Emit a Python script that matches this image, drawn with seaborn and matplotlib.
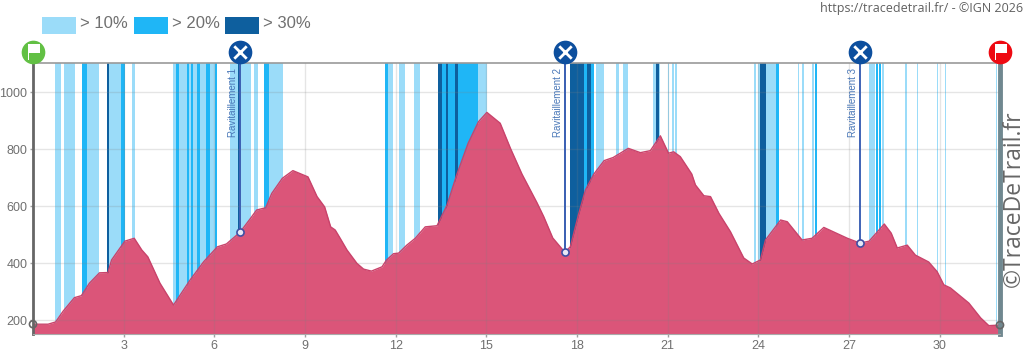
import matplotlib
matplotlib.use("Agg")
import matplotlib.pyplot as plt
from matplotlib.patches import Rectangle
from matplotlib.path import Path
import seaborn as sns
import pandas as pd

km = [0, 0.5, 0.75, 1.0, 1.37, 1.6, 1.87, 2.2, 2.48, 2.6, 3.04, 3.35, 3.6, 3.8, 4.2, 4.65, 5.2, 5.65, 6.1, 6.4,
      6.85, 7.2, 7.4, 7.7, 7.9, 8.25, 8.6, 9.1, 9.4, 9.65, 9.85, 10.0, 10.17, 10.39, 10.72, 10.94, 11.2, 11.55, 11.7, 11.93,
      12.1, 12.37, 12.65, 12.98, 13.37, 13.7, 14.03, 14.4, 14.74, 15.02, 15.46, 15.8, 16.18, 16.68, 16.9, 17.2, 17.6, 17.78, 18.05, 18.28,
      18.56, 18.9, 19.2, 19.7, 20.1, 20.43, 20.76, 21.03, 21.2, 21.42, 21.8, 21.92, 22.2, 22.42, 22.7, 23.08, 23.52, 23.8, 24.07, 24.24,
      24.74, 24.96, 25.45, 25.78, 26.17, 26.95, 27.37, 27.67, 28.17, 28.4, 28.6, 28.93, 29.2, 29.64, 29.92, 30.14, 30.36, 30.97, 31.36, 31.63, 32.0]
elev = [187, 187, 195, 233, 280, 287, 331, 367, 368, 412, 478, 488, 447, 423, 331, 254, 342, 406, 458, 468,
        509, 558, 587, 595, 645, 698, 725, 703, 634, 598, 528, 517, 487, 447, 400, 380, 373, 388, 412, 434,
        436, 464, 488, 528, 532, 604, 713, 821, 896, 929, 891, 803, 713, 612, 564, 489, 439, 458, 570, 657,
        713, 760, 771, 803, 788, 795, 847, 786, 791, 774, 713, 675, 637, 634, 575, 511, 419, 398, 412, 482,
        552, 546, 482, 488, 526, 488, 471, 478, 538, 506, 454, 464, 429, 405, 371, 325, 314, 261, 209, 182, 184]

bands_10 = [(0.73, 0.94), (1.03, 1.40), (1.78, 2.20), (2.53, 2.90), (3.29, 3.38), (4.63, 4.72), (4.83, 5.09), (5.17, 5.22),
            (5.29, 5.42), (5.51, 5.73), (5.86, 6.02), (6.52, 6.78), (6.88, 7.21), (7.32, 7.45), (7.80, 8.27), (11.75, 11.91),
            (12.12, 12.32), (12.62, 12.81), (14.74, 15.03), (18.63, 18.88), (19.30, 19.39), (19.53, 19.68), (20.51, 20.62),
            (20.71, 20.76), (21.0, 21.04), (21.15, 21.2), (21.26, 21.31), (23.85, 23.91), (23.99, 24.07), (24.26, 24.6),
            (25.31, 25.35), (25.46, 25.53), (25.78, 25.84), (27.67, 27.88), (28.08, 28.17), (28.84, 28.91), (29.24, 29.28),
            (29.91, 29.96), (30.17, 30.21), (31.88, 31.91)]
bands_20 = [(1.62, 1.78), (2.90, 3.06), (4.72, 4.83), (5.09, 5.17), (5.22, 5.29), (5.42, 5.51), (5.73, 5.86), (6.02, 6.09),
            (7.65, 7.80), (11.66, 11.75), (13.53, 13.68), (13.72, 13.98), (14.06, 14.74), (18.25, 18.33), (18.47, 18.55),
            (24.6, 24.7), (25.89, 25.96), (27.91, 27.96), (27.99, 28.05)]
bands_30 = [(2.46, 2.53), (6.80, 6.88), (13.40, 13.53), (13.68, 13.72), (13.98, 14.06), (17.58, 17.65), (17.76, 18.25),
            (18.33, 18.47), (20.62, 20.71), (24.07, 24.26)]

band_labels = ["> 10%", "> 20%", "> 30%"]
band_colors = ["#9bdcf9", "#1fb6f6", "#0e5f9e"]

aid_km = [6.85, 17.6, 27.37]
aid_elev = [509, 439, 471]
aid_labels = ["Ravitaillement 1", "Ravitaillement 2", "Ravitaillement 3"]
end_km = [0, 32.0]
end_elev = [187, 184]

x_ticks = [3, 6, 9, 12, 15, 18, 21, 24, 27, 30]
y_ticks = [200, 400, 600, 800, 1000]

sns.set_theme(style="white")
plt.rcParams["font.family"] = ["Liberation Sans", "DejaVu Sans"]
W, H = 1024, 353
fig = plt.figure(figsize=(W / 100, H / 100), dpi=100)
ax = fig.add_axes([33 / W, 1 - 334 / H, 967 / W, 271 / H])
ax.set_xlim(0, 32)
ax.set_ylim(152.7, 1102)

for bands, c in zip([bands_10, bands_20, bands_30], band_colors):
    for a, b in bands:
        ax.axvspan(a, b, color=c, lw=0, zorder=1)

df = pd.DataFrame({"km": km, "elev": elev})
ax.fill_between(df.km, df.elev, 152.7, color="#db5579", lw=0, zorder=2)
sns.lineplot(data=df, x="km", y="elev", color="#c9436b", lw=1, ax=ax, zorder=3, errorbar=None)

ax.set_xticks(x_ticks, [str(t) for t in x_ticks])
ax.set_yticks(y_ticks, [str(t) for t in y_ticks])
ax.set_xlabel("")
ax.set_ylabel("")
ax.grid(True, color="#808080", alpha=0.2, lw=1, zorder=4)
ax.set_axisbelow(False)
ax.tick_params(axis="both", colors="#707070", labelsize=9, length=2, width=1, pad=2, bottom=True, left=True,
               color="#a0a0a0")
for s, c, w in [("left", "#666666", 2), ("right", "#708890", 3.5), ("top", "#999999", 1.2), ("bottom", "#aaaaaa", 0.8)]:
    ax.spines[s].set_color(c)
    ax.spines[s].set_linewidth(w)
    ax.spines[s].set_zorder(5)

# aid stations
trans = ax.get_xaxis_transform()
for k, e, lab in zip(aid_km, aid_elev, aid_labels):
    ax.plot([k, k], [e, 1102], color="#3f63b5", lw=1.4, zorder=3.5)
    ax.text(k - 0.07, 1085, lab, rotation=90, ha="right", va="top", color="#4a78b8", fontsize=7, zorder=6)
ax.scatter(aid_km, aid_elev, s=26, facecolor="#e8e8f5", edgecolor="#3f4fa5", lw=1.2, zorder=6)
ax.scatter(end_km, end_elev, s=26, facecolor="none", edgecolor="#666666", lw=1.2, zorder=6, clip_on=False)

# icons above the plot
flag = Path([(-0.55, -0.8), (-0.55, 0.8), (0.75, 0.8), (0.75, -0.1), (-0.4, -0.1), (-0.4, -0.8), (-0.55, -0.8)], closed=True)
ICON_Y = 1.04
ax.scatter(aid_km, [ICON_Y] * 3, s=290, color="#0d4f9e", transform=trans, clip_on=False, zorder=7, lw=0)
ax.scatter(aid_km, [ICON_Y] * 3, s=80, marker="x", color="white", lw=2, transform=trans, clip_on=False, zorder=8)
ax.scatter([0], [ICON_Y], s=290, color="#62c044", transform=trans, clip_on=False, zorder=7, lw=0)
ax.scatter([32], [ICON_Y], s=290, color="#ee0a12", transform=trans, clip_on=False, zorder=7, lw=0)
ax.scatter([0, 32], [ICON_Y] * 2, s=130, marker=flag, color="white", transform=trans, clip_on=False, zorder=8, lw=0)

# legend
for x0, c, lab in zip([42, 134, 225], band_colors, band_labels):
    fig.add_artist(Rectangle((x0 / W, 1 - 34 / H), 34 / W, 17 / H, color=c, lw=0, transform=fig.transFigure))
    fig.text((x0 + 38) / W, 1 - 24 / H, lab, fontsize=12, color="#707070", va="center", ha="left")

fig.text(1023 / W, 1 - 8.5 / H, "https://tracedetrail.fr/ - ©IGN 2026", fontsize=9, color="#606060",
         ha="right", va="center", family=["Open Sans", "DejaVu Sans"])
fig.text(1013.5 / W, 1 - 199 / H, "©TraceDeTrail.fr", fontsize=16.5, color="#666666", rotation=90,
         ha="center", va="center", family=["Open Sans", "DejaVu Sans"])

fig.savefig("out.png", dpi=100)
